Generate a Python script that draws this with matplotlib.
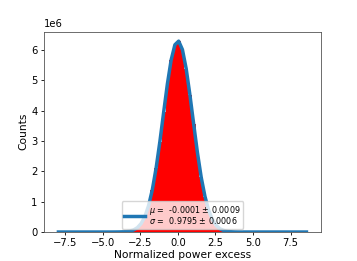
import numpy as np
import matplotlib
matplotlib.use("Agg")
import matplotlib.pyplot as plt

# bin centers (Normalized power excess) and counts (in units of 1e6)
bin_start = -7.95
bin_width = 0.25
counts_1e6 = [0]*15 + [
    0.0008, 0.0019, 0.0050, 0.0128, 0.030, 0.068, 0.142, 0.277, 0.507, 0.870,
    1.40, 2.11, 2.98, 3.94, 4.88, 5.67, 6.17, 6.29, 6.01, 5.38,
    4.51, 3.55, 2.61, 1.80, 1.17, 0.706, 0.401, 0.213, 0.106, 0.050,
    0.0217, 0.0089, 0.0034, 0.0013] + [0]*18
legend_text = "$\\mu$ =  -0.0001 $\\pm$ 0.0009\n$\\sigma$ =  0.9795 $\\pm$ 0.0006"

counts = np.array(counts_1e6) * 1e6
centers = bin_start + bin_width * np.arange(len(counts))

fig = plt.figure(figsize=(3.57, 2.61), dpi=100)
ax = fig.add_axes([0.123, 0.111, 0.776, 0.768])
ax.bar(centers, counts, width=bin_width, color='red', linewidth=0)
ax.plot(centers, counts, color='#1f77b4', lw=2.5, label=legend_text)
ax.set_xlim(centers[0] - bin_width/2 - 0.84, centers[-1] + bin_width/2 + 0.84)
ax.set_ylim(0, counts.max() * 1.05)
ax.tick_params(labelsize=7.2, length=2.5, width=0.6, pad=2)
ax.yaxis.get_offset_text().set_fontsize(7.2)
ax.set_xlabel("Normalized power excess", fontsize=7.7, labelpad=1)
ax.set_ylabel("Counts", fontsize=7.7, labelpad=2)
for s in ax.spines.values():
    s.set_linewidth(0.6)
    s.set_color('#555555')
leg = ax.legend(loc='lower center', fontsize=5.8, handlelength=2.6, borderpad=0.3,
                labelspacing=0.1, handletextpad=0.5, borderaxespad=0.4)
for t in leg.get_texts():
    t.set_linespacing(0.85)
fig.savefig("out.png", dpi=100)
